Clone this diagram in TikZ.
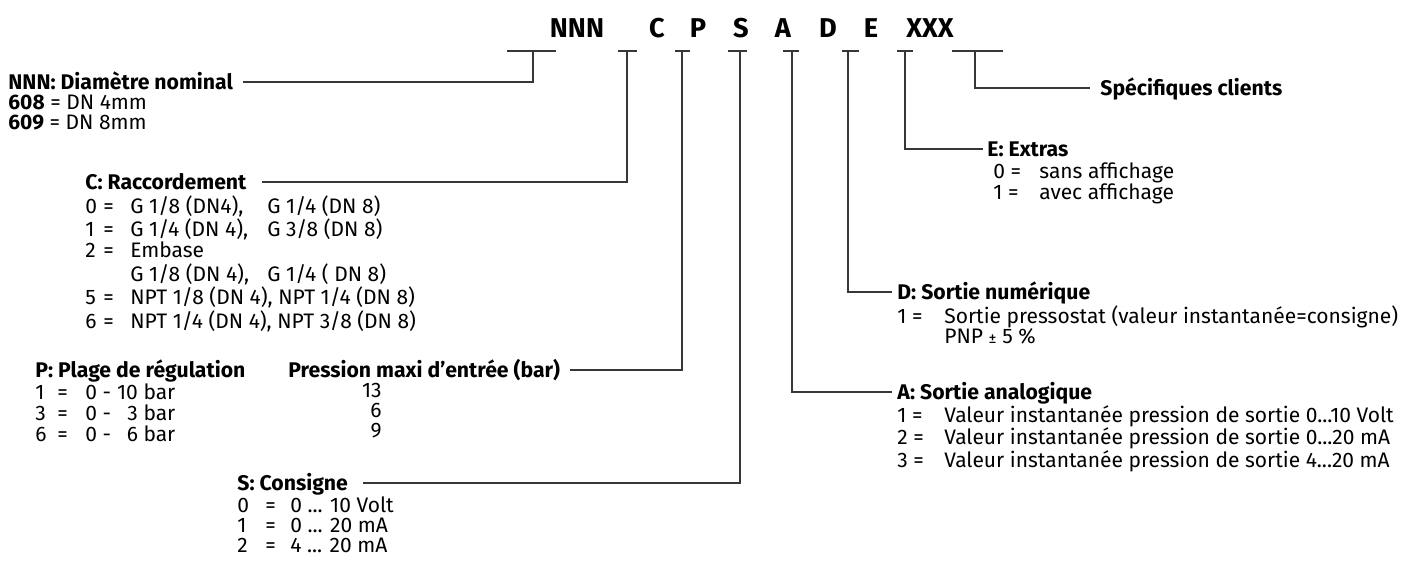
\documentclass[tikz,border=0pt]{standalone}
\usepackage{fontspec}
\setmainfont{Fira Sans}
\usepackage{tikz}
\usetikzlibrary{calc,positioning}
\definecolor{LineGrey}{RGB}{55,55,55}

\begin{document}
\begin{tikzpicture}[x=0.5pt,y=-0.5pt,
  hd/.style={anchor=west,inner sep=0pt,font=\fontsize{10.6}{9.5}\selectfont\bfseries,text height=7.3pt,text depth=0pt},
  lst/.style={anchor=north west,inner sep=0pt,font=\fontsize{10.5}{9.5}\selectfont},
  code/.style={inner sep=0pt,font=\fontsize{13.6}{14}\selectfont\bfseries,text height=9.4pt,text depth=0pt},
  ld/.style={draw=LineGrey,line width=0.6pt}]
\useasboundingbox (0,0) rectangle (1404,561);
\node[code] (kN) at (577,28){NNN};
\node[code] (kC) at (657,28){C};
\node[code] (kP) at (698,28){P};
\node[code] (kS) at (741,28){S};
\node[code] (kA) at (783,28){A};
\node[code] (kD) at (828,28){D};
\node[code] (kE) at (871,28){E};
\node[code] (kX) at (930,28){XXX};
\coordinate (sN) at (533,51);\coordinate (sC) at (627,51);\coordinate (sP) at (682,51);
\coordinate (sS) at (740,51);\coordinate (sA) at (792,51);\coordinate (sD) at (848,51);
\coordinate (sE) at (905,51);\coordinate (sX) at (975,51);
\draw[ld] (507,51)--(556,51);\draw[ld] (618,51)--(637,51);\draw[ld] (675,51)--(690,51);
\draw[ld] (728,51)--(747,51);\draw[ld] (783,51)--(799,51);\draw[ld] (842,51)--(859,51);
\draw[ld] (897,51)--(913,51);\draw[ld] (952,51)--(1003,51);
\node[hd] (hdN) at (8,82){NNN: Diamètre nominal};
\node[lst] (lsN) at (8,94.9){\begin{tabular}{@{}l@{}}\textbf{608} = DN 4mm\\ \textbf{609} = DN 8mm\end{tabular}};
\node[hd] (hdC) at (85,182){C: Raccordement};
\node[lst] (lsC) at (85,194.9){\begin{tabular}{@{}p{9pt}@{}p{13.5pt}@{}l@{}}
0&=&\makebox[68.5pt][l]{G 1/8 (DN4),}G 1/4 (DN 8)\\
1&=&\makebox[68.5pt][l]{G 1/4 (DN 4),}G 3/8 (DN 8)\\
2&=&Embase\\
&&\makebox[68.5pt][l]{G 1/8 (DN 4),}G 1/4 ( DN 8)\\
5&=&NPT 1/8 (DN 4), NPT 1/4 (DN 8)\\
6&=&NPT 1/4 (DN 4), NPT 3/8 (DN 8)\end{tabular}};
\node[hd] (hdP) at (35,370){P: Plage de régulation};
\node[lst] (lsP) at (35,382.9){\begin{tabular}{@{}p{11pt}@{}p{14pt}@{}l@{\hspace{3pt}}r@{}}
1&=&0 -&10 bar\\ 3&=&0 -&3 bar\\ 6&=&0 -&6 bar\end{tabular}};
\node[hd] (hdPr) at (288,370){Pression maxi d'entrée (bar)};
\node[lst,anchor=north east] (lsPr) at (382,382.9){\begin{tabular}{@{}r@{}}13\\ 6\\ 9\end{tabular}};
\node[hd] (hdS) at (237,483){S: Consigne};
\node[lst] (lsS) at (237,495.9){\begin{tabular}{@{}p{14pt}@{}p{12.5pt}@{}l@{}}
0&=&0 ... 10 Volt\\ 1&=&0 ... 20 mA\\ 2&=&4 ... 20 mA\end{tabular}};
\node[hd] (hdX) at (1100,88){Spécifiques clients};
\node[hd] (hdE) at (987,149){E: Extras};
\node[lst] (lsE) at (993,161.9){\begin{tabular}{@{}p{23pt}@{}l@{}}
0 =&sans affichage\\ 1 =&avec affichage\end{tabular}};
\node[hd] (hdD) at (897,292){D: Sortie numérique};
\node[lst] (lsD) at (897,304.9){\begin{tabular}{@{}p{23.5pt}@{}l@{}}
1 =&Sortie pressostat (valeur instantanée=consigne)\\ &PNP {\footnotesize ±} 5 \%\end{tabular}};
\node[hd] (hdA) at (897,392){A: Sortie analogique};
\node[lst] (lsA) at (897,404.9){\begin{tabular}{@{}p{23.5pt}@{}l@{}}
1 =&Valeur instantanée pression de sortie 0...10 Volt\\
2 =&Valeur instantanée pression de sortie 0...20 mA\\
3 =&Valeur instantanée pression de sortie 4...20 mA\end{tabular}};
\draw[ld] (sN) |- ($(hdN.east)+(10,0)$);
\draw[ld] (sC) |- ($(hdC.east)+(15,0)$);
\draw[ld] (sP) |- ($(hdPr.east)+(10,0)$);
\draw[ld] (sS) |- ($(hdS.east)+(15,0)$);
\draw[ld] (sA) |- ($(hdA.west)+(-5,0)$);
\draw[ld] (sD) |- ($(hdD.west)+(-5,0)$);
\draw[ld] (sE) |- ($(hdE.west)+(-4,0)$);
\draw[ld] (sX) |- ($(hdX.west)+(-10,0)$);
\end{tikzpicture}
\end{document}
